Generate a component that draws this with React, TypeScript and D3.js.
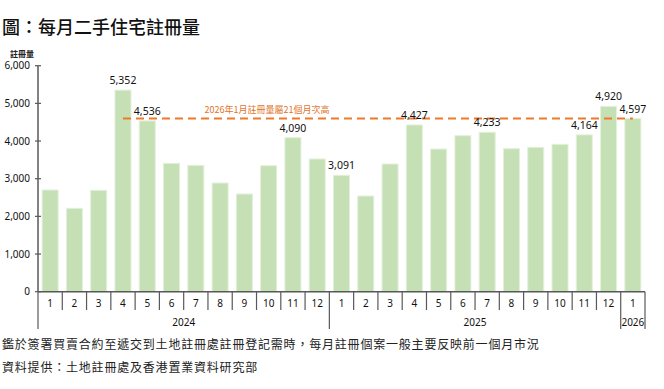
import * as d3 from 'd3';

// 每月二手住宅註冊量 (2024-01 to 2026-01)
const months = ['1', '2', '3', '4', '5', '6', '7', '8', '9', '10', '11', '12',
	'1', '2', '3', '4', '5', '6', '7', '8', '9', '10', '11', '12', '1'];
const years = [
	{ label: '2024', start: 0, end: 12 },
	{ label: '2025', start: 12, end: 24 },
	{ label: '2026', start: 24, end: 25 },
];
const values = [2700, 2214, 2692, 5352, 4536, 3408, 3355, 2886, 2594, 3345, 4090, 3523,
	3091, 2540, 3390, 4427, 3788, 4142, 4233, 3797, 3833, 3913, 4164, 4920, 4597];
const labelled = [3, 4, 10, 12, 15, 18, 22, 23, 24];
const yTicks = [0, 1000, 2000, 3000, 4000, 5000, 6000];

const refValue = 4597;
const refFrom = 3;
const refTo = 24;
const refText = '2026年1月註冊量屬21個月次高';

const title = '圖：每月二手住宅註冊量';
const yTitle = '註冊量';
const note1 = '鑑於簽署買賣合約至遞交到土地註冊處註冊登記需時，每月註冊個案一般主要反映前一個月市況';
const note2 = '資料提供：土地註冊處及香港置業資料研究部';

const W = 664;
const H = 389;
const CJK = '"Noto Sans CJK TC", "Noto Sans", sans-serif';
const NUM = '"Noto Sans", "Noto Sans CJK TC", sans-serif';

export default function App() {
	const x = d3
		.scaleBand<number>()
		.domain(d3.range(values.length))
		.range([38, 645])
		.paddingInner(0.34)
		.paddingOuter(0.17);
	const y = d3.scaleLinear().domain([0, 6000]).range([291.7, 65.7]);
	const step = x.step();
	const edge = (i: number) => x.range()[0] + i * step;
	const mid = (i: number) => (x(i) as number) + x.bandwidth() / 2;
	const axisColor = '#595959';

	return (
		<div style={{ position: 'absolute', left: 0, top: 0 }}>
			<svg width={W} height={H} style={{ display: 'block', background: '#fff' }}>
				{/* title */}
				<text x={2} y={34} fontFamily={CJK} fontSize={18} fontWeight={500} fill='#111'>
					{title}
				</text>
				<text x={22} y={57} textAnchor='middle' fontFamily={CJK} fontSize={8} fontWeight={700} fill='#222'>
					{yTitle}
				</text>

				{/* bars */}
				{values.map((v, i) => (
					<rect
						key={i}
						x={x(i)}
						y={y(v)}
						width={x.bandwidth()}
						height={y(0) - y(v)}
						fill='#c5e0b4'
						stroke='#e4f0dc'
						strokeWidth={1}
					/>
				))}

				{/* y axis */}
				<line x1={38} x2={38} y1={y(6000)} y2={y(0)} stroke={axisColor} strokeWidth={1.5} />
				{yTicks.map((t) => (
					<g key={t}>
						<line x1={35} x2={41} y1={y(t)} y2={y(t)} stroke={axisColor} strokeWidth={1.2} />
						<text x={30} y={y(t) + 3.5} textAnchor='end' fontFamily={NUM} fontSize={10} fill='#111'>
							{d3.format(',')(t)}
						</text>
					</g>
				))}

				{/* x axis */}
				<line x1={38} x2={645} y1={y(0)} y2={y(0)} stroke={axisColor} strokeWidth={1.5} />
				{d3.range(values.length + 1).map((i) => {
					const isYear = years.some((yr) => yr.start === i || yr.end === i);
					return (
						<line
							key={i}
							x1={edge(i)}
							x2={edge(i)}
							y1={y(0)}
							y2={isYear ? 329 : 310}
							stroke={axisColor}
							strokeWidth={1.2}
						/>
					);
				})}
				{months.map((m, i) => (
					<text key={i} x={mid(i)} y={306.5} textAnchor='middle' fontFamily={NUM} fontSize={10} fill='#111'>
						{m}
					</text>
				))}
				{years.map((yr) => (
					<text
						key={yr.label}
						x={(edge(yr.start) + edge(yr.end)) / 2}
						y={325.5}
						textAnchor='middle'
						fontFamily={NUM}
						fontSize={10}
						fill='#111'>
						{yr.label}
					</text>
				))}

				{/* reference line */}
				<line
					x1={mid(refFrom)}
					x2={mid(refTo)}
					y1={y(refValue)}
					y2={y(refValue)}
					stroke='#f0782a'
					strokeWidth={2}
					strokeDasharray='8,5'
				/>
				<text x={267} y={113} textAnchor='middle' fontFamily={CJK} fontSize={9} fill='#e0742a'>
					{refText}
				</text>

				{/* value labels */}
				{labelled.map((i) => (
					<text
						key={i}
						x={mid(i)}
						y={y(values[i]) - 6}
						textAnchor='middle'
						fontFamily={NUM}
						fontSize={10.5}
						fill='#111'>
						{d3.format(',')(values[i])}
					</text>
				))}

				{/* notes */}
				<text x={2} y={349} fontFamily={CJK} fontSize={12} letterSpacing={0.8} fill='#222'>
					{note1}
				</text>
				<text x={2} y={372} fontFamily={CJK} fontSize={12} letterSpacing={0.8} fill='#222'>
					{note2}
				</text>
			</svg>
		</div>
	);
}
